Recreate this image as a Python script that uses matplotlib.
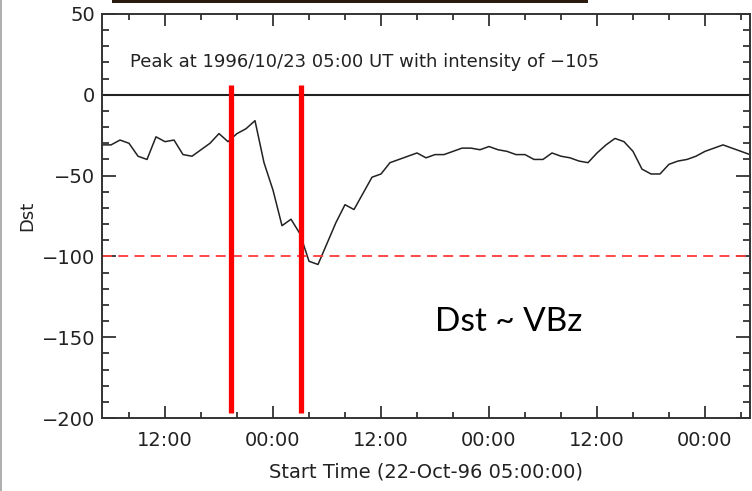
import matplotlib
matplotlib.use('Agg')
import matplotlib.pyplot as plt
import matplotlib.dates as mdates
from matplotlib.lines import Line2D
from matplotlib.patches import Rectangle
import pandas as pd

# hourly Dst values starting 22-Oct-96 05:00 UT
start = '1996-10-22 05:00'
dst = [-31, -31, -28, -30, -38, -40, -26, -29, -28, -37,
       -38, -34, -30, -24, -29, -24, -21, -16, -42, -59,
       -81, -77, -86, -103, -105, -92, -79, -68, -71, -61,
       -51, -49, -42, -40, -38, -36, -39, -37, -37, -35,
       -33, -33, -34, -32, -34, -35, -37, -37, -40, -40,
       -36, -38, -39, -41, -42, -36, -31, -27, -29, -35,
       -46, -49, -49, -43, -41, -40, -38, -35, -33, -31,
       -33, -35, -37]
marks = ['1996-10-22 19:20', '1996-10-23 03:05']
storm_level = -100
peak_text = 'Peak at 1996/10/23 05:00 UT with intensity of \u2212105'

times = pd.date_range(start, periods=len(dst), freq='h')
t0 = times[0]
t1 = t0 + pd.Timedelta(hours=72)

plt.rcParams['font.family'] = ['DejaVu Sans']
plt.rcParams['font.size'] = 14

fig = plt.figure(figsize=(7.52, 4.91), dpi=100)
ax = fig.add_axes([102/752, 1 - 418/491, 648/752, 404/491])

ax.plot(times, dst, color='#222222', lw=1.1)
ax.axhline(0, color='#222222', lw=1.5)
ax.axhline(storm_level, color='#ff3a3a', lw=1.3, ls=(0, (5.5, 3.5)))
for m in marks:
    ax.plot([pd.Timestamp(m)] * 2, [-197, 6], color='#ff0000', lw=3.8,
            solid_capstyle='butt')

ax.set_xlim(t0, t1)
ax.set_ylim(-200, 50)
ax.set_yticks(range(-200, 51, 50))
ax.set_yticks(range(-200, 51, 10), minor=True)
ax.xaxis.set_major_locator(mdates.HourLocator(byhour=[0, 12]))
ax.xaxis.set_minor_locator(mdates.HourLocator(byhour=range(0, 24, 4)))
ax.xaxis.set_major_formatter(mdates.DateFormatter('%H:%M'))

ax.tick_params(axis='both', which='both', direction='in', top=True, right=True,
               color='#333333', width=1.3, labelcolor='#222222')
ax.tick_params(axis='x', which='major', length=8.5, pad=9)
ax.tick_params(axis='x', which='minor', length=4.3)
ax.tick_params(axis='y', which='major', length=10, pad=5)
ax.tick_params(axis='y', which='minor', length=5)
for s in ax.spines.values():
    s.set_color('#333333')
    s.set_linewidth(1.4)

ax.set_ylabel('Dst', fontsize=13, color='#222222')
ax.yaxis.set_label_coords(-0.102, 0.5)
ax.set_xlabel('Start Time (22-Oct-96 05:00:00)', fontsize=14,
              color='#222222', labelpad=9)

ax.text(0.043, 0.882, peak_text, transform=ax.transAxes, fontsize=13,
        color='#222222', va='center')
ax.text(0.627, 0.238, 'Dst ~ VBz', transform=ax.transAxes, fontsize=24,
        family='Lato', ha='center', va='center')

# slide artefacts: thin grey frame line on the left and dark strip on top
fig.add_artist(Line2D([1.5/752, 1.5/752], [0, 1], color='#a0a0a0', lw=1.2))
fig.add_artist(Rectangle((112/752, 1 - 3/491), 476/752, 3/491,
                         color='#2b1a0e', lw=0))

fig.savefig('out.png', dpi=100)
